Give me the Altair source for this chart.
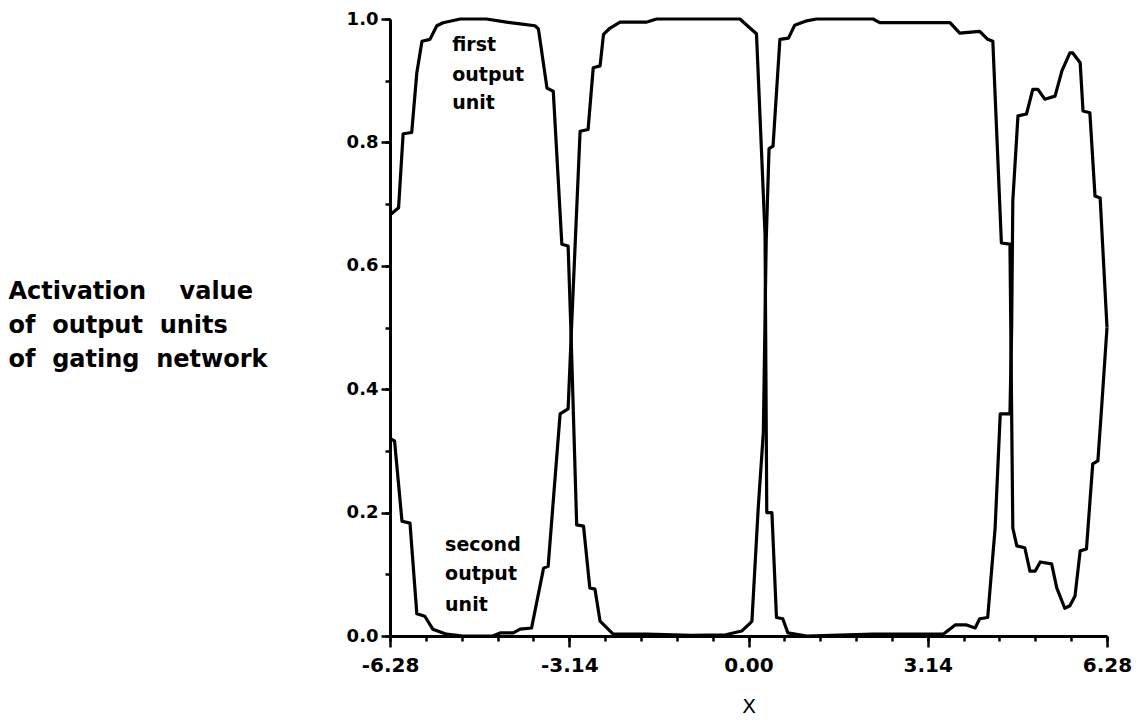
import altair as alt
import pandas as pd

# ---- data ----
x1 = [-6.26, -6.13, -6.05, -5.90, -5.81, -5.72, -5.58, -5.46, -5.35, -5.05, -4.59, -4.24, -4.00, -3.74,
      -3.68, -3.53, -3.42, -3.27, -3.16, -3.11, -3.01, -2.89, -2.78, -2.69, -2.60, -2.37, -1.78, -1.00,
      -0.40, -0.12, 0.03, 0.06, 0.17, 0.26, 0.31, 0.36, 0.43, 0.55, 0.70, 0.81, 1.02, 1.19, 2.18, 2.30,
      3.53, 3.70, 4.05, 4.19, 4.28, 4.43, 4.58, 4.63, 4.70, 4.84, 4.93, 5.02, 5.11, 5.31, 5.40, 5.54,
      5.63, 5.72, 5.81, 5.92, 6.03, 6.12, 6.19, 6.28]
y1 = [0.684, 0.694, 0.814, 0.816, 0.913, 0.964, 0.967, 0.989, 0.994, 1.0, 1.0, 0.995, 0.992, 0.989,
      0.984, 0.888, 0.883, 0.635, 0.632, 0.494, 0.18, 0.178, 0.078, 0.076, 0.024, 0.003, 0.003, 0.001,
      0.002, 0.008, 0.021, 0.024, 0.207, 0.33, 0.64, 0.79, 0.794, 0.967, 0.969, 0.99, 0.997, 1.0, 1.0, 0.994,
      0.994, 0.977, 0.98, 0.967, 0.964, 0.637, 0.635, 0.175, 0.146, 0.143, 0.105, 0.105, 0.12, 0.117, 0.078, 0.045,
      0.049, 0.065, 0.138, 0.141, 0.279, 0.284, 0.376, 0.5]

x2 = [-6.26, -6.20, -6.07, -5.93, -5.81, -5.67, -5.53, -5.29, -5.00, -4.48, -4.35, -4.12, -4.00, -3.80,
      -3.59, -3.51, -3.30, -3.16, -3.10, -2.95, -2.81, -2.72, -2.60, -2.54, -2.43, -2.25, -1.78, -1.61,
      -0.15, 0.03, 0.14, 0.29, 0.30, 0.32, 0.41, 0.49, 0.60, 0.69, 1.02, 2.18, 3.41, 3.62, 3.82, 3.97,
      4.05, 4.19, 4.32, 4.41, 4.58, 4.61, 4.63, 4.72, 4.87, 4.98, 5.07, 5.19, 5.37, 5.49, 5.63, 5.68,
      5.81, 5.86, 5.98, 6.07, 6.16, 6.28]
y2 = [0.319, 0.316, 0.186, 0.183, 0.036, 0.032, 0.011, 0.003, 0.0, 0.0, 0.005, 0.005, 0.011, 0.013,
      0.11, 0.113, 0.36, 0.368, 0.5, 0.818, 0.821, 0.921, 0.924, 0.975, 0.985, 0.995, 0.995, 1.0,
      1.0, 0.985, 0.976, 0.65, 0.5, 0.2, 0.2, 0.03, 0.028, 0.005, 0.0, 0.003, 0.003, 0.018, 0.018, 0.013,
      0.028, 0.03, 0.175, 0.36, 0.36, 0.5, 0.705, 0.843, 0.846, 0.886, 0.886, 0.87, 0.875, 0.916, 0.945, 0.945,
      0.929, 0.851, 0.848, 0.713, 0.71, 0.5]

x_tick_values = [-6.28, -5.652, -5.024, -4.396, -3.768, -3.14, -2.512, -1.884, -1.256, -0.628, 0.0,
                 0.628, 1.256, 1.884, 2.512, 3.14, 3.768, 4.396, 5.024, 5.652, 6.28]
x_label_values = [-6.28, -3.14, 0.0, 3.14, 6.28]
x_labels = ["-6.28", "-3.14", "0.00", "3.14", "6.28"]

y_tick_values = [0.0, 0.1, 0.2, 0.3, 0.4, 0.5, 0.6, 0.7, 0.8, 0.9, 1.0]
y_label_values = [0.0, 0.2, 0.4, 0.6, 0.8, 1.0]
y_labels = ["0.0", "0.2", "0.4", "0.6", "0.8", "1.0"]

y_title_lines = ["Activation\u00a0\u00a0\u00a0\u00a0value",
                 "of\u00a0\u00a0output\u00a0\u00a0units",
                 "of\u00a0\u00a0gating\u00a0\u00a0network"]
x_title = "X"

ann_text = ["first", "output", "unit", "second", "output", "unit"]
ann_x = [-5.19, -5.19, -5.19, -5.315, -5.315, -5.315]
ann_y = [0.958, 0.909, 0.864, 0.147, 0.100, 0.050]

# ---- tables ----
rows = []
for i, (a, b) in enumerate(zip(x1, y1)):
    rows.append({"x": a, "y": b, "series": "first", "i": i})
for i, (a, b) in enumerate(zip(x2, y2)):
    rows.append({"x": a, "y": b, "series": "second", "i": i})
df = pd.DataFrame(rows)
ann = pd.DataFrame({"x": ann_x, "y": ann_y, "text": ann_text})


def label_expr(vals, labs):
    parts = [f"datum.value == {v} ? '{l}'" for v, l in zip(vals, labs)]
    return " : ".join(parts) + " : ''"


# major axes: labels + long ticks
x_axis = alt.Axis(
    orient="bottom",
    values=x_label_values,
    labelExpr=label_expr(x_label_values, x_labels),
    tickSize=11, tickWidth=2.5, tickColor="black",
    domainWidth=3, domainColor="black",
    labelFont="DejaVu Sans", labelFontSize=20, labelFontWeight="bold", labelColor="black",
    labelPadding=8, labelFlush=False, labelOverlap=False,
    grid=False,
    title=x_title, titleFont="DejaVu Sans", titleFontSize=20, titleFontWeight="normal",
    titleColor="black", titleBaseline="middle", titleY=70,
)

y_axis = alt.Axis(
    orient="left",
    values=y_label_values,
    labelExpr=label_expr(y_label_values, y_labels),
    tickSize=9, tickWidth=2.5, tickColor="black",
    domainWidth=3, domainColor="black",
    labelFont="DejaVu Sans", labelFontSize=18, labelFontWeight="bold", labelColor="black",
    labelPadding=3, labelFlush=False, labelOverlap=False,
    grid=False,
    title=y_title_lines, titleFont="DejaVu Sans", titleFontSize=24, titleFontWeight="bold",
    titleColor="black", titleAngle=0, titleAlign="left", titleBaseline="alphabetic",
    titleX=-382, titleY=279, titleLineHeight=34,
)

# minor axes: short ticks only
x_minor = alt.Axis(
    orient="bottom", values=x_tick_values, labels=False, domain=False, grid=False,
    tickSize=5, tickWidth=2.5, tickColor="black", title=None,
)
y_minor = alt.Axis(
    orient="left", values=y_tick_values, labels=False, domain=False, grid=False,
    tickSize=5, tickWidth=2.5, tickColor="black", title=None,
)

xs = alt.Scale(domain=[-6.28, 6.28], nice=False, zero=False)
ys = alt.Scale(domain=[0, 1], nice=False)

lines = alt.Chart(df).mark_line(color="black", strokeWidth=3.2, strokeJoin="round").encode(
    x=alt.X("x:Q", scale=xs, axis=x_axis),
    y=alt.Y("y:Q", scale=ys, axis=y_axis),
    detail="series:N",
    order="i:Q",
)

labels = alt.Chart(ann).mark_text(
    align="left", baseline="middle", font="DejaVu Sans", fontSize=19,
    fontWeight="bold", color="black"
).encode(
    x=alt.X("x:Q", scale=xs, axis=x_minor),
    y=alt.Y("y:Q", scale=ys, axis=y_minor),
    text="text:N",
)

chart = alt.layer(lines, labels).resolve_axis(x="independent", y="independent").properties(
    width=717, height=617,
    autosize=alt.AutoSizeParams(type="none"),
    padding={"left": 390, "top": 19, "right": 35, "bottom": 92},
    background="white",
).configure_view(stroke=None)

chart.save("out.html", embed_options={"renderer": "svg", "actions": False})
